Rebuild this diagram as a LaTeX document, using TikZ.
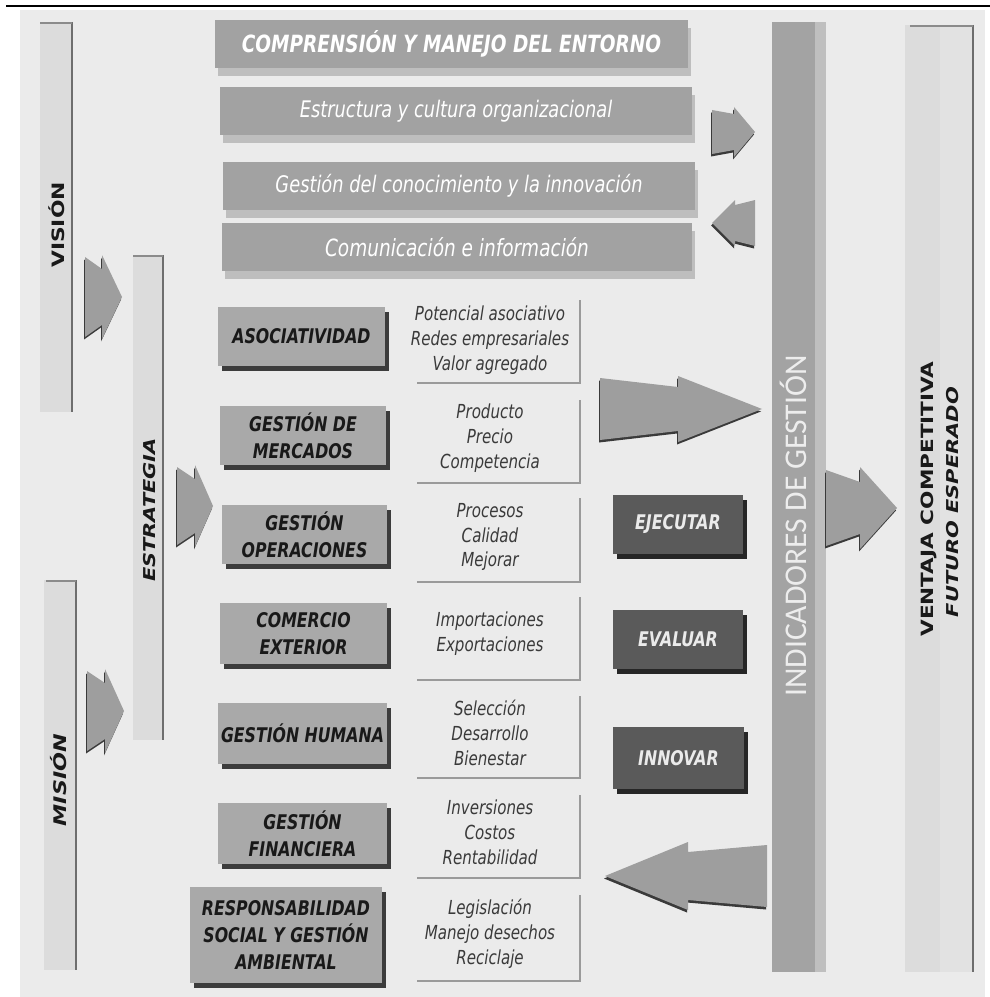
\documentclass[tikz,border=0pt]{standalone}
\usepackage{fontspec}
\setmainfont{DejaVu Sans}[FakeStretch=0.78]
\newfontfamily\upfont{DejaVu Sans}[FakeStretch=1.28]
\newfontfamily\lightfont{Carlito}
\usetikzlibrary{shadows}

\definecolor{paper}{HTML}{EBEBEB}
\definecolor{banner}{HTML}{A2A2A2}
\definecolor{bannershade}{HTML}{BEBEBE}
\definecolor{labelfill}{HTML}{A9A9A9}
\definecolor{labelshade}{HTML}{3C3C3C}
\definecolor{actfill}{HTML}{5A5A5A}
\definecolor{actshade}{HTML}{262626}
\definecolor{arrowfill}{HTML}{9E9E9E}
\definecolor{arrowshade}{HTML}{3A3A3A}
\definecolor{barlight}{HTML}{DCDCDC}
\definecolor{barline}{HTML}{6E6E6E}
\definecolor{indic}{HTML}{A3A3A3}
\definecolor{indiclight}{HTML}{BFBFBF}
\definecolor{rulegray}{HTML}{9A9A9A}
\definecolor{itemtext}{HTML}{3A3A3A}

\newcommand{\fsz}[2]{\fontsize{#1}{#2}\selectfont}

% block arrow: tail x, barb x, tip x, centre y,
% half height at tail, half height of body at barb, half height of barbs
\newcommand{\blockarrow}[7]{%
  \fill[arrowshade,shift={(-1,2.5)}] (#1,#4-#5) -- (#2,#4-#6) -- (#2,#4-#7) -- (#3,#4)
    -- (#2,#4+#7) -- (#2,#4+#6) -- (#1,#4+#5) -- cycle;
  \fill[arrowfill] (#1,#4-#5) -- (#2,#4-#6) -- (#2,#4-#7) -- (#3,#4)
    -- (#2,#4+#7) -- (#2,#4+#6) -- (#1,#4+#5) -- cycle;
}

\tikzset{
  size/.style 2 args={minimum width=#1*0.02cm, minimum height=#2*0.02cm},
  bannerbox/.style={fill=banner, inner sep=0pt, text=white,
    drop shadow={fill=bannershade, opacity=1, shadow xshift=0.06cm, shadow yshift=-0.16cm}},
  catbox/.style={fill=labelfill, inner sep=0pt, text=black!90, align=center,
    font=\fsz{11.5}{15.3}\bfseries\itshape,
    drop shadow={fill=labelshade, opacity=1, shadow xshift=0.07cm, shadow yshift=-0.1cm}},
  actbox/.style={fill=actfill, inner sep=0pt, text=white!92!black,
    font=\fsz{11.5}{14}\bfseries\itshape,
    drop shadow={fill=actshade, opacity=1, shadow xshift=0.08cm, shadow yshift=-0.1cm}},
  items/.style={align=center, text=itemtext, font=\fsz{11}{14.2}\itshape, inner sep=0pt},
  vtitle/.style={rotate=90, inner sep=0pt, text=black!90, align=center},
  frameline/.style={draw=rulegray, line width=1.3pt},
  sideline/.style={draw=rulegray, line width=0.8pt},
}

\begin{document}
\begin{tikzpicture}[x=0.02cm, y=-0.02cm]
\useasboundingbox (0,0) rectangle (990,997);
% paper
\fill[white] (0,0) rectangle (990,997);
\fill[paper] (20,10) rectangle (985,997);
\draw[line width=1.5pt] (6,6) -- (990,6);

% ---- side bars ----
% vision
\fill[barlight] (40,22) rectangle (71,412);
\draw[barline, line width=1pt] (72,22) -- (72,412);
\draw[barline!80, line width=1.6pt] (40,23) -- (72,23);
\node[vtitle, font=\upfont\fsz{9.7}{12}\bfseries] (vision) at (57,225) {VISIÓN};
% mision
\fill[barlight] (44,580) rectangle (75,970);
\draw[barline, line width=1pt] (76,580) -- (76,970);
\draw[barline!80, line width=1.6pt] (46,581) -- (76,581);
\node[vtitle, font=\upfont\fsz{9.9}{12}\bfseries\itshape] (mision) at (59,780) {MISIÓN};
% estrategia
\fill[barlight] (133,255) rectangle (162,740);
\draw[barline, line width=1pt] (163,255) -- (163,740);
\draw[barline!80, line width=1.6pt] (133,256) -- (163,256);
\node[vtitle, font=\upfont\fsz{9.3}{12}\bfseries\itshape] (estrategia) at (150,510) {ESTRATEGIA};
% indicadores
\fill[indic] (772,22) rectangle (815,972);
\fill[indiclight] (815,22) rectangle (826,972);
\node[vtitle, text=white!93!black, font=\lightfont\fsz{18}{20}] (indicadores) at (793,526) {INDICADORES DE GESTIÓN};
% ventaja
\fill[barlight] (905,25) rectangle (940,972);
\fill[barlight!60!paper] (940,25) rectangle (972,972);
\draw[barline, line width=1pt] (973,25) -- (973,972);
\draw[barline!80, line width=1.6pt] (910,26) -- (973,26);
\node[vtitle, font=\upfont\fsz{9.6}{12}\bfseries] (ventaja) at (929,499) {VENTAJA COMPETITIVA};
\node[vtitle, font=\upfont\fsz{9.3}{12}\bfseries\itshape] (futuro) at (953,502) {FUTURO ESPERADO};

% ---- top banners ----
\node[bannerbox, size={473}{48}, font=\fsz{13.5}{16}\bfseries\itshape] (entorno) at (451.5,44) {COMPRENSIÓN Y MANEJO DEL ENTORNO};
\node[bannerbox, size={472}{48}, font=\fsz{13}{16}\itshape] (cultura) at (456,111) {Estructura y cultura organizacional};
\node[bannerbox, size={472}{48}, font=\fsz{13}{16}\itshape] (conocimiento) at (459,186) {Gestión del conocimiento y la innovación};
\node[bannerbox, size={470}{48}, font=\fsz{13.5}{16}\itshape] (comunicacion) at (457,247) {Comunicación e información};

% ---- areas ----
\node[catbox, size={167}{59}] (asoc) at (301.5,336.5) {ASOCIATIVIDAD};
\node[catbox, size={166}{59}] (merc) at (303,435.5) {GESTIÓN DE\\MERCADOS};
\node[catbox, size={165}{59}] (oper) at (304.5,534.5) {GESTIÓN\\OPERACIONES};
\node[catbox, size={167}{61}] (come) at (303.5,633.5) {COMERCIO\\EXTERIOR};
\node[catbox, size={169}{61}] (huma) at (302.5,733.5) {GESTIÓN HUMANA};
\node[catbox, size={169}{61}] (fina) at (302.5,833.5) {GESTIÓN\\FINANCIERA};
\node[catbox, size={192}{96}] (resp) at (286,935) {RESPONSABILIDAD\\SOCIAL Y GESTIÓN\\AMBIENTAL};

% ---- item lists ----
\node[items] (it1) at (490,340) {Potencial asociativo\\Redes empresariales\\Valor agregado};
\node[items] (it2) at (490,438) {Producto\\Precio\\Competencia};
\node[items] (it3) at (490,537) {Procesos\\Calidad\\Mejorar};
\node[items] (it4) at (490,634) {Importaciones\\Exportaciones};
\node[items] (it5) at (490,733) {Selección\\Desarrollo\\Bienestar};
\node[items] (it6) at (490,832) {Inversiones\\Costos\\Rentabilidad};
\node[items] (it7) at (490,934) {Legislación\\Manejo desechos\\Reciclaje};

\foreach \t/\b in {300/383, 400/483, 498/582, 597/680, 696/778, 795/878, 895/981}{
  \draw[sideline] (580,\t) -- (580,\b);
  \draw[frameline] (417,\b) -- (581,\b);
}

% ---- actions ----
\node[actbox, size={130}{59}] (ejecutar) at (678,524.5) {EJECUTAR};
\node[actbox, size={130}{59}] (evaluar) at (678,639.5) {EVALUAR};
\node[actbox, size={131}{62}] (innovar) at (678.5,758) {INNOVAR};

% ---- block arrows ----
\blockarrow{712}{734}{755}{132}{22}{18}{25}
\blockarrow{755}{735}{712}{223}{23}{18}{23}
\blockarrow{85}{102}{122}{297}{40}{28}{42}
\blockarrow{177}{195}{213}{506}{39}{27}{41}
\blockarrow{87}{105}{124}{711}{40}{28}{42}
\blockarrow{600}{678}{762}{409}{31}{22}{33}
\blockarrow{826}{860}{897}{508}{38}{26}{41}
\blockarrow{767}{688}{605}{876}{31}{24}{34}
\end{tikzpicture}
\end{document}
